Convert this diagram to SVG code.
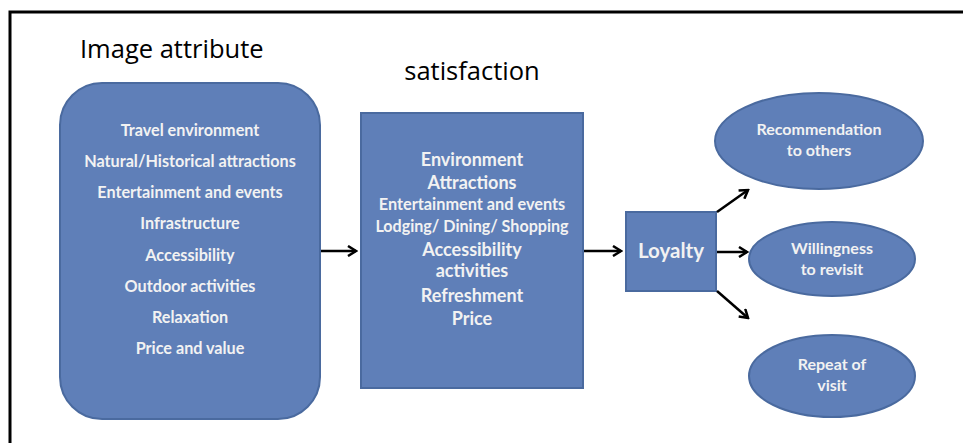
<svg xmlns="http://www.w3.org/2000/svg" width="963" height="443" viewBox="0 0 963 443">
<defs>
<style>
.shape{fill:#5f7fb8;stroke:#4a6a9f;stroke-width:2}
.t{font-family:Lato,"Open Sans","Liberation Sans",sans-serif;font-weight:bold;fill:#f2f2f2;text-anchor:middle}
.h{font-family:"Open Sans","Liberation Sans",sans-serif;fill:#000}
.c{stroke:#000;stroke-width:2.5;fill:none}
</style>
<marker id="arr" viewBox="0 0 12 12" refX="10" refY="6" markerWidth="12" markerHeight="12" markerUnits="userSpaceOnUse" orient="auto">
<path d="M2,1 L10,6 L2,11" fill="none" stroke="#000" stroke-width="2.5"/>
</marker>
</defs>
<rect width="963" height="443" fill="#fff"/>
<path d="M10,443 V12 H963" fill="none" stroke="#000" stroke-width="3"/>
<text class="h" x="80" y="58" font-size="25.5">Image attribute</text>
<text class="h" x="472" y="80" font-size="25.5" text-anchor="middle">satisfaction</text>
<g id="image-attribute">
<rect class="shape" x="60" y="83" width="260" height="336" rx="42"/>
<text class="t" x="190" y="136" font-size="16.2">Travel environment</text>
<text class="t" x="190" y="167" font-size="16.2">Natural/Historical attractions</text>
<text class="t" x="190" y="198" font-size="16.2">Entertainment and events</text>
<text class="t" x="190" y="229" font-size="16.2">Infrastructure</text>
<text class="t" x="190" y="261" font-size="16.2">Accessibility</text>
<text class="t" x="190" y="292" font-size="16.2">Outdoor activities</text>
<text class="t" x="190" y="323" font-size="16.2">Relaxation</text>
<text class="t" x="190" y="354" font-size="16.2">Price and value</text>
</g>
<g id="satisfaction">
<rect class="shape" x="361" y="113" width="222" height="275"/>
<text class="t" x="472" y="166" font-size="18">Environment</text>
<text class="t" x="472" y="189" font-size="18">Attractions</text>
<text class="t" x="472" y="210" font-size="16.3">Entertainment and events</text>
<text class="t" x="472" y="232" font-size="16.1">Lodging/ Dining/ Shopping</text>
<text class="t" x="472" y="256" font-size="18">Accessibility</text>
<text class="t" x="472" y="277" font-size="18">activities</text>
<text class="t" x="472" y="302" font-size="18">Refreshment</text>
<text class="t" x="472" y="325" font-size="18">Price</text>
</g>
<g id="loyalty">
<rect class="shape" x="626" y="212" width="90" height="79"/>
<text class="t" x="671" y="258" font-size="20.5">Loyalty</text>
</g>
<g id="recommendation">
<ellipse class="shape" cx="819" cy="141" rx="104" ry="48"/>
<text class="t" x="819" y="135" font-size="16">Recommendation</text>
<text class="t" x="819" y="156" font-size="16">to others</text>
</g>
<g id="revisit">
<ellipse class="shape" cx="832" cy="259" rx="83" ry="37"/>
<text class="t" x="832" y="254" font-size="16">Willingness</text>
<text class="t" x="832" y="275" font-size="16">to revisit</text>
</g>
<g id="repeat">
<ellipse class="shape" cx="832" cy="376" rx="83" ry="41"/>
<text class="t" x="832" y="370" font-size="16">Repeat of</text>
<text class="t" x="832" y="391" font-size="16">visit</text>
</g>
<g id="connectors">
<line class="c" x1="321" y1="251" x2="356" y2="251" marker-end="url(#arr)"/>
<line class="c" x1="584" y1="251" x2="621" y2="251" marker-end="url(#arr)"/>
<line class="c" x1="717" y1="252" x2="747" y2="252" marker-end="url(#arr)"/>
<line class="c" x1="717" y1="212" x2="748" y2="190" marker-end="url(#arr)"/>
<line class="c" x1="717" y1="291" x2="748" y2="318" marker-end="url(#arr)"/>
</g>
</svg>
